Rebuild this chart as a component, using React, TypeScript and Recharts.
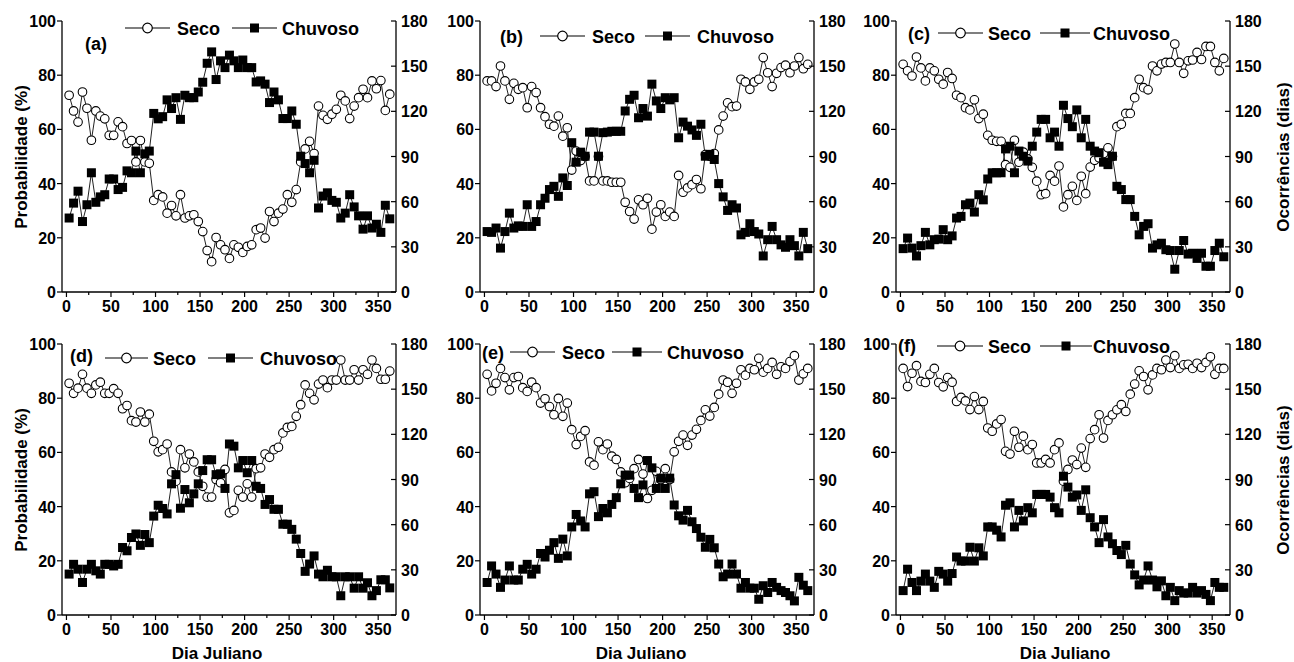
import React from 'react';
import { LineChart, Line, XAxis, YAxis } from 'recharts';

// ---------- DATA ----------
const DAYS = [3, 8, 13, 18, 23, 28, 33, 38, 43, 48, 53, 58, 63, 68, 73, 78, 83, 88, 93, 98, 103, 108, 113, 118, 123, 128, 133, 138, 143, 148, 153, 158, 163, 168, 173, 178, 183, 188, 193, 198, 203, 208, 213, 218, 223, 228, 233, 238, 243, 248, 253, 258, 263, 268, 273, 278, 283, 288, 293, 298, 303, 308, 313, 318, 323, 328, 333, 338, 343, 348, 353, 358, 363];

const SECO_A = [72.6, 66.8, 62.7, 73.8, 67.8, 56, 66.8, 64.9, 63.9, 57.8, 57.8, 62.8, 61, 54.8, 55.9, 48, 55.9, 48, 47.5, 33.8, 35.9, 35.1, 29.1, 31.9, 28.1, 35.9, 27.3, 28.1, 28.5, 26, 22.3, 15.3, 11.2, 20.1, 17.4, 15.6, 12.4, 17.4, 16.5, 14.6, 16.8, 17.4, 23, 23.6, 19.9, 29.7, 26, 29.1, 30.6, 35.9, 33.1, 37.8, 48, 52.8, 55.6, 51.1, 68.6, 65.2, 63.7, 65.6, 67.4, 72.6, 70.5, 64, 68.6, 71.7, 74.8, 71.7, 77.9, 75, 78, 67, 73];
const CHUVOSO_A = [27.3, 32.8, 37.2, 26, 32.2, 44, 33.1, 35.1, 35.9, 41.7, 41.7, 37.8, 38.6, 44.7, 44, 52, 44, 51, 52, 65.9, 63.9, 64.7, 70.9, 67.7, 71.7, 63.7, 72.6, 71.7, 71.7, 73.8, 77.4, 84.4, 88.6, 78.4, 85.3, 82.8, 87.4, 85.3, 82.8, 85.6, 82.8, 82.8, 77.5, 77.9, 76.7, 69.9, 73.8, 70.9, 64, 64, 66.8, 61.9, 50.1, 47.4, 44, 48.6, 31, 35.4, 36.6, 33.8, 33.1, 27.3, 29.1, 35.9, 31.4, 28.1, 23.2, 28.1, 23.6, 25, 22, 32, 27];

const SECO_B = [77.9, 77.9, 75.8, 83.4, 77.9, 71.1, 77, 74.8, 75.4, 68, 75.8, 73.6, 68, 64.7, 61.9, 61.2, 64.9, 57.5, 60.6, 45, 52, 48.5, 50, 41, 41, 50, 41, 41, 40.5, 40.5, 40.5, 33.1, 29.7, 26.9, 34, 32.2, 34.6, 23.2, 29.5, 32.2, 27.9, 29.5, 27.9, 43, 36.8, 38.4, 39.6, 41.5, 38.1, 50.7, 50.1, 51.1, 59.8, 64.9, 69.8, 68.4, 68.6, 78.5, 77.5, 74.8, 77.5, 78.5, 86.5, 80.9, 75.8, 80.7, 82.8, 83.7, 80.9, 83.4, 86.5, 82.4, 84];
const CHUVOSO_B = [22.3, 22, 23.6, 16.2, 22.3, 29.1, 23.6, 24.4, 24.2, 32.2, 24.2, 26, 32.2, 34.6, 37.8, 39, 35.3, 42.1, 39.3, 55.1, 47.9, 51.6, 50.1, 59, 59, 50.1, 58.8, 59, 59.3, 59.3, 59.3, 66.8, 71.1, 72.6, 64.3, 67.7, 64.9, 76.7, 70.5, 67.7, 71.7, 70.9, 71.7, 56.9, 62.7, 61.2, 59.8, 57.8, 61.9, 50.1, 50.8, 48.9, 40, 35.1, 30.1, 32.2, 31, 21.1, 22, 25.2, 22.3, 21.4, 13.3, 19.3, 24.2, 19.3, 17.4, 16.5, 19.3, 17.1, 13.3, 22, 16];

const SECO_C = [84, 81.6, 79.7, 86.7, 82.7, 77.9, 82.7, 81.6, 78.5, 76.7, 81, 78.8, 72.6, 71.7, 68, 67.2, 70.9, 64, 65.6, 57.8, 56, 55.6, 55.6, 47, 46, 56, 47.9, 51.6, 49.1, 46, 40.9, 35.9, 36.3, 43, 40.9, 46.5, 31.4, 35.9, 39, 33.8, 42.7, 36.3, 46.1, 48.6, 49.5, 51.1, 53.2, 50, 61, 61.9, 65.9, 65.9, 71.7, 78.5, 75.4, 74.6, 83.4, 81.6, 84.1, 84.7, 84.7, 91.5, 84.7, 80.7, 85.3, 85.6, 88.4, 85.8, 90.6, 90.6, 84.7, 81.6, 86.2];
const CHUVOSO_C = [16, 19.9, 16.2, 13.3, 17.1, 22, 17.4, 19.3, 19.5, 23, 19.3, 20.7, 27.3, 27.9, 32.2, 32.8, 29.5, 35.9, 34, 41.7, 44, 44, 44, 52.8, 53.8, 44, 52, 50.1, 48.3, 53.8, 59, 63.7, 63.7, 56.9, 59, 53.8, 68.9, 64, 61, 67.2, 56.9, 63.7, 53.8, 52, 51.4, 47.9, 47, 50.1, 39, 37.8, 34.1, 34.1, 27.9, 21.1, 24.2, 25.2, 16.2, 17.4, 18, 15.6, 15.3, 8.4, 15.3, 19, 14, 14.3, 12.4, 14.3, 9.5, 9.5, 15.3, 18, 13];

const SECO_D = [85.5, 81.8, 83.7, 88.8, 83.7, 81.8, 84.9, 85.9, 81.8, 81.8, 83.5, 81.8, 76.1, 77.3, 71.7, 71.2, 74.9, 71.2, 74.1, 64.1, 60.2, 61, 63.1, 52.8, 49.4, 61, 54.3, 59.4, 56.5, 52.8, 47.5, 43.5, 43.5, 50, 48.8, 53.7, 37.7, 38.6, 46, 43.5, 48.4, 43.5, 54, 54.3, 59.4, 58.2, 61, 61.9, 67.2, 69.2, 69.6, 73.3, 77.6, 84.9, 81.8, 79.4, 85.2, 86.7, 83.9, 86.7, 86.7, 94.1, 86.7, 86.7, 90.5, 86.7, 90.5, 88.8, 94.1, 91, 87, 87, 90];
const CHUVOSO_D = [15.1, 18.7, 16.9, 12, 16.9, 18.7, 16.3, 15.1, 18.7, 18.7, 18.1, 18.7, 24.9, 23.7, 28.6, 29.9, 25.7, 29.7, 26.7, 36.5, 40.5, 39.3, 37.3, 48.4, 51.8, 39.4, 46.3, 41.4, 44.7, 48.4, 53.3, 57.3, 57.3, 51.8, 52.1, 46.7, 63.1, 62.3, 54.3, 57, 52.5, 57, 47.5, 46.7, 40.8, 42.6, 39, 39, 33.5, 33.5, 31.6, 28, 22.7, 16.1, 18.8, 21.8, 15.1, 14.1, 16.5, 14.1, 14.1, 7.1, 14.1, 14.1, 9.9, 14.1, 9.9, 11.9, 7.1, 9, 13, 13, 10];

const SECO_E = [88.8, 82.7, 85.5, 91, 87.6, 83.1, 87.6, 88, 83.9, 82.5, 85.9, 83.9, 78.2, 79.8, 76.9, 73.9, 79.9, 73.3, 78.2, 68.4, 62.9, 65.9, 68, 56.5, 55.3, 63.9, 61, 63.1, 58.6, 57.4, 52.8, 48.8, 50.4, 54, 57.4, 52, 43, 46, 53, 50, 54, 50, 60.2, 64.1, 66.4, 62.6, 66.4, 68.5, 71.8, 75.7, 73.4, 76.6, 81.5, 86.7, 85.9, 81.8, 85.5, 90.5, 88.5, 91, 90.5, 94.7, 89.6, 91, 93.2, 88.8, 91.6, 91, 93.5, 95.7, 86.7, 89, 91];
const CHUVOSO_E = [12, 18.1, 15.1, 10.2, 12.9, 18.1, 12.9, 12.9, 16.9, 18.7, 15.1, 16.9, 22.7, 21.4, 23.9, 26.7, 20.9, 28, 21.8, 32.5, 37.1, 34.7, 32.5, 44.7, 45.5, 36.3, 39.3, 37.7, 40.8, 43.3, 48.4, 51.6, 51.6, 46.7, 43.3, 48, 57, 54.3, 46.7, 50.5, 46.7, 50.5, 40.6, 36.6, 35, 38.6, 34.4, 31.9, 28.7, 25, 27.9, 24.8, 18.8, 14.1, 15.1, 18.8, 15.1, 9.9, 12, 9.9, 9.9, 5.8, 10.8, 8.3, 12, 10.2, 9, 8.3, 7.1, 5.2, 13.9, 11, 9];

const SECO_F = [91, 84.3, 89.2, 92, 86.2, 85.8, 88.8, 91, 85.8, 84.2, 87.6, 85.9, 78.8, 80.3, 79, 75.8, 80.6, 75.8, 78.8, 69, 67.8, 70.5, 72.1, 60.4, 59.4, 67.8, 61.9, 66, 61, 62.9, 56.1, 56.1, 57.4, 56.1, 61, 63.5, 49.4, 53.7, 57.2, 55.5, 61.6, 54.5, 65.1, 68.4, 73.9, 65.3, 71.8, 73.9, 75.7, 77.6, 75.1, 81.5, 85.2, 90.1, 88, 83.1, 88.6, 91, 90.5, 94.1, 91.3, 95.7, 91, 92.3, 92.5, 91, 92.9, 91.3, 93.2, 95.3, 88.8, 91, 91];
const CHUVOSO_F = [9, 16.9, 12, 9, 12.5, 15.1, 12.5, 10.2, 16.1, 15.1, 12.5, 15.3, 21.4, 19.9, 19.9, 25, 19.9, 24.8, 21.8, 32.5, 32.5, 31.3, 28.8, 40.5, 41.4, 32.5, 38.6, 34.7, 39.6, 37.7, 44.5, 44.5, 44.5, 43.5, 39.6, 37.7, 51.2, 47.2, 43.5, 44.3, 38.6, 46.2, 35.9, 32.5, 26.7, 35.2, 28.8, 26.3, 23.8, 22.3, 25.7, 18.8, 14.8, 11.1, 12.9, 18.1, 12.9, 10.4, 12.6, 7.1, 10.2, 5.3, 9, 8.1, 8.1, 10.2, 8.1, 9, 7.6, 5.3, 12, 10.2, 10.2];

const X_TICKS = [0, 25, 50, 75, 100, 125, 150, 175, 200, 225, 250, 275, 300, 325, 350];
const X_LABEL_STEP = 50;
const LEFT_TICKS = [0, 20, 40, 60, 80, 100];
const RIGHT_TICKS = [0, 30, 60, 90, 120, 150, 180];
const PANEL_TAGS = ['(a)', '(b)', '(c)', '(d)', '(e)', '(f)'];
const SERIES_NAMES = ['Seco', 'Chuvoso'];
const Y_LEFT_TITLE = 'Probabilidade (%)';
const Y_RIGHT_TITLE = 'Ocorrências (dias)';
const X_TITLE = 'Dia Juliano';

// ---------- LAYOUT ----------
const FONT = '"Liberation Sans", Arial, Helvetica, sans-serif';
const PLOT_W = 334;
const PLOT_H = 271;
const AX_W = 40;
const X_AX_H = 30;
const TOP_PAD = 10;

const PANELS = [
  { seco: SECO_A, chuvoso: CHUVOSO_A, L: 62, T: 21, leg: { tx: 85, ty: 43, y: 28, c1: 125, c2: 170, sx: 177, s1: 232, s2: 277, cx: 282 } },
  { seco: SECO_B, chuvoso: CHUVOSO_B, L: 480, T: 21, leg: { tx: 500, ty: 36, y: 36, c1: 540, c2: 585, sx: 592, s1: 645, s2: 690, cx: 697 } },
  { seco: SECO_C, chuvoso: CHUVOSO_C, L: 896, T: 21, leg: { tx: 908, ty: 33, y: 33, c1: 938, c2: 983, sx: 988, s1: 1040, s2: 1090, cx: 1093 } },
  { seco: SECO_D, chuvoso: CHUVOSO_D, L: 62, T: 344, leg: { tx: 70, ty: 355, y: 358, c1: 105, c2: 148, sx: 153, s1: 208, s2: 253, cx: 260 } },
  { seco: SECO_E, chuvoso: CHUVOSO_E, L: 480, T: 344, leg: { tx: 482, ty: 352, y: 352, c1: 510, c2: 555, sx: 562, s1: 612, s2: 662, cx: 667 } },
  { seco: SECO_F, chuvoso: CHUVOSO_F, L: 896, T: 344, leg: { tx: 898, ty: 345, y: 346, c1: 937, c2: 983, sx: 988, s1: 1040, s2: 1092, cx: 1093 } },
];

const txt = { fontFamily: FONT, fontWeight: 700 as const, fill: '#000' };

function XTick(props: any) {
  const { x, y, payload } = props;
  const v = payload.value;
  const major = v % X_LABEL_STEP === 0;
  return (
    <g>
      <line x1={x} y1={y} x2={x} y2={y + (major ? 5 : 3)} stroke="#000" strokeWidth={1.2} />
      {major && (
        <text x={x} y={y + 20} textAnchor="middle" fontSize={16} {...txt}>
          {v}
        </text>
      )}
    </g>
  );
}

function YLeftTick(props: any) {
  const { x, y, payload } = props;
  return (
    <g>
      <line x1={x} y1={y} x2={x - 5} y2={y} stroke="#000" strokeWidth={1.2} />
      <text x={x - 6} y={y + 6} textAnchor="end" fontSize={16} {...txt}>
        {payload.value}
      </text>
    </g>
  );
}

function YRightTick(props: any) {
  const { x, y, payload } = props;
  return (
    <g>
      <line x1={x} y1={y} x2={x - 5} y2={y} stroke="#000" strokeWidth={1.2} />
      <text x={x + 5} y={y + 6} textAnchor="start" fontSize={16} {...txt}>
        {payload.value}
      </text>
    </g>
  );
}

const circleDot = (p: any) => (
  <circle key={`c${p.index}`} cx={p.cx} cy={p.cy} r={4.3} fill="#fff" stroke="#000" strokeWidth={1.1} />
);
const squareDot = (p: any) => (
  <rect key={`s${p.index}`} x={p.cx - 4.5} y={p.cy - 4.5} width={9} height={9} fill="#000" />
);

function Panel({ p }: { p: (typeof PANELS)[number] }) {
  const data = DAYS.map((day, i) => ({ day, seco: p.seco[i], chuvoso: p.chuvoso[i] }));
  const axisLine = { stroke: '#000', strokeWidth: 1.3 };
  return (
    <div style={{ position: 'absolute', left: p.L - AX_W, top: p.T - TOP_PAD }}>
      <LineChart
        width={PLOT_W + 2 * AX_W}
        height={PLOT_H + TOP_PAD + X_AX_H}
        data={data}
        margin={{ top: TOP_PAD, right: 0, bottom: 0, left: 0 }}
      >
        <XAxis
          dataKey="day"
          type="number"
          domain={[-5, 370]}
          ticks={X_TICKS}
          interval={0}
          height={X_AX_H}
          tickLine={false}
          tickSize={0}
          tickMargin={0}
          axisLine={axisLine}
          tick={<XTick />}
          allowDataOverflow
        />
        <YAxis
          yAxisId="left"
          type="number"
          domain={[0, 100]}
          ticks={LEFT_TICKS}
          interval={0}
          width={AX_W}
          tickLine={false}
          tickSize={0}
          tickMargin={0}
          axisLine={axisLine}
          tick={<YLeftTick />}
        />
        <YAxis
          yAxisId="right"
          orientation="right"
          type="number"
          domain={[0, 180]}
          ticks={RIGHT_TICKS}
          interval={0}
          width={AX_W}
          tickLine={false}
          tickSize={0}
          tickMargin={0}
          axisLine={axisLine}
          tick={<YRightTick />}
          allowDataOverflow
        />
        <Line
          yAxisId="left"
          type="linear"
          dataKey="seco"
          stroke="#222"
          strokeWidth={1}
          dot={circleDot}
          activeDot={false}
          isAnimationActive={false}
        />
        <Line
          yAxisId="left"
          type="linear"
          dataKey="chuvoso"
          stroke="#222"
          strokeWidth={1}
          dot={squareDot}
          activeDot={false}
          isAnimationActive={false}
        />
      </LineChart>
    </div>
  );
}

function Overlay() {
  return (
    <svg width={1294} height={662} style={{ position: 'absolute', left: 0, top: 0, pointerEvents: 'none' }}>
      {PANELS.map((p, k) => {
        const g = p.leg;
        return (
          <g key={k}>
            <text x={g.tx} y={g.ty + 6.5} fontSize={18} {...txt}>
              {PANEL_TAGS[k]}
            </text>
            <line x1={g.c1} x2={g.c2} y1={g.y} y2={g.y} stroke="#000" strokeWidth={1.2} />
            <circle cx={(g.c1 + g.c2) / 2} cy={g.y} r={4.8} fill="#fff" stroke="#000" strokeWidth={1.2} />
            <text x={g.sx} y={g.y + 6.5} fontSize={18} {...txt}>
              {SERIES_NAMES[0]}
            </text>
            <line x1={g.s1} x2={g.s2} y1={g.y} y2={g.y} stroke="#000" strokeWidth={1.2} />
            <rect x={(g.s1 + g.s2) / 2 - 4.5} y={g.y - 4.5} width={9} height={9} fill="#000" />
            <text x={g.cx} y={g.y + 6.5} fontSize={18} {...txt}>
              {SERIES_NAMES[1]}
            </text>
          </g>
        );
      })}
      {[157, 480].map((cy, k) => (
        <text key={`l${k}`} transform={`translate(21,${cy}) rotate(-90)`} textAnchor="middle" dominantBaseline="central" fontSize={17} {...txt}>
          {Y_LEFT_TITLE}
        </text>
      ))}
      {[157, 480].map((cy, k) => (
        <text key={`r${k}`} transform={`translate(1283,${cy}) rotate(-90)`} textAnchor="middle" dominantBaseline="central" fontSize={17} {...txt}>
          {Y_RIGHT_TITLE}
        </text>
      ))}
      {[217, 641, 1065].map((cx, k) => (
        <text key={`x${k}`} x={cx} y={659} textAnchor="middle" fontSize={17} {...txt}>
          {X_TITLE}
        </text>
      ))}
    </svg>
  );
}

export default function App() {
  return (
    <div style={{ position: 'absolute', left: 0, top: 0, width: 1294, height: 662, background: '#fff', overflow: 'hidden' }}>
      {PANELS.map((p, k) => (
        <Panel key={k} p={p} />
      ))}
      <Overlay />
    </div>
  );
}
